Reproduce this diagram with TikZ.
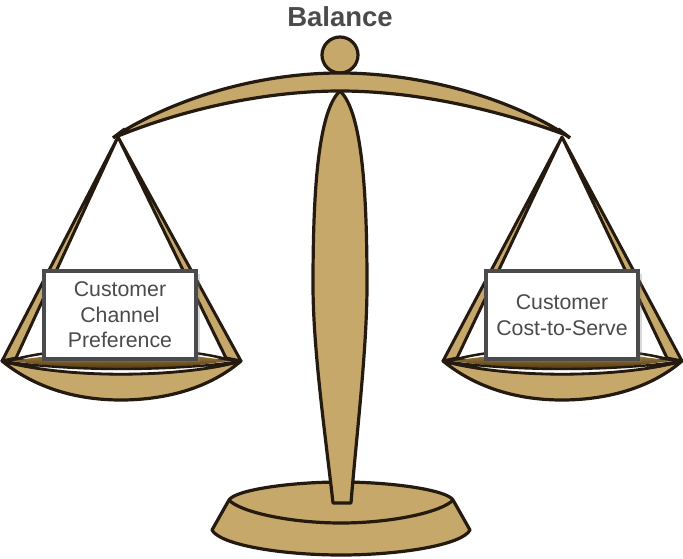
\documentclass[tikz,border=0pt]{standalone}
\usepackage{fontspec}
\setmainfont{Liberation Sans}
\usetikzlibrary{shadows}
\definecolor{scaletan}{HTML}{C7A86B}
\definecolor{scaleink}{HTML}{241A10}
\definecolor{cardgray}{HTML}{4B4B4D}
\definecolor{pantop}{HTML}{A5843F}
\definecolor{panlow}{HTML}{4E3712}
\tikzset{
  scalepart/.style={draw=scaleink, fill=scaletan, line width=3.2pt, line join=round},
  strap/.style={draw=scaleink, fill=scaletan, line width=3pt, line join=round},
  card/.style={draw=cardgray, fill=white, line width=4pt, minimum width=152pt, minimum height=88pt,
    align=center, text=cardgray, font=\fontsize{21.3}{25.5}\selectfont,
    drop shadow={shadow xshift=4pt, shadow yshift=-3pt, opacity=0.3}}
}
\begin{document}
\begin{tikzpicture}[x=1pt, y=-1pt]
\useasboundingbox (0, 0) rectangle (683, 559);
\node[text=cardgray, font=\fontsize{27.5}{30}\selectfont\bfseries] (title) at (340, 17) {Balance};
\draw[scalepart] (340, 55) circle (18);
\draw[scalepart] (212, 530) -- (229, 500) .. controls (235, 490) and (290, 482) .. (341, 482)
  .. controls (392, 482) and (447, 490) .. (453, 500) -- (470, 530)
  .. controls (462, 545) and (400, 555) .. (341, 555)
  .. controls (282, 555) and (220, 545) .. (212, 530) -- cycle;
\draw[scaleink, line width=3.2pt] (229, 500) .. controls (240, 512) and (290, 523) .. (341, 523)
  .. controls (392, 523) and (442, 512) .. (453, 500);
\draw[scalepart] (340, 91) .. controls (317, 112) and (313, 200) .. (313, 285)
  .. controls (313, 350) and (326, 440) .. (333, 503) -- (351, 503)
  .. controls (356, 440) and (367, 350) .. (367, 285)
  .. controls (367, 200) and (363, 112) .. (340, 91) -- cycle;
\draw[scalepart] (125, 130) .. controls (190, 92) and (270, 73) .. (340, 73)
  .. controls (410, 73) and (495, 92) .. (558, 130) -- (566, 135)
  .. controls (490, 107) and (410, 91) .. (340, 91)
  .. controls (270, 91) and (190, 107) .. (118, 136) -- cycle;
\draw[scaleink, line width=3.5pt] (113, 138) -- (125, 129);
\draw[scaleink, line width=3.5pt] (570, 138) -- (558, 129);
\foreach \panx/\apex in {0/118, 441/121} {
\begin{scope}[shift={(\panx, 0)}]
\draw[draw=scaleink, fill=white, line width=2.5pt] (12, 360) .. controls (40, 352) and (85, 348) .. (121, 348)
  .. controls (157, 348) and (202, 352) .. (230, 360) -- cycle;
\shade[top color=pantop, bottom color=panlow] (14, 361) .. controls (45, 355) and (85, 353) .. (121, 353)
  .. controls (157, 353) and (197, 355) .. (228, 361)
  .. controls (197, 366) and (157, 369) .. (121, 369)
  .. controls (85, 369) and (45, 366) .. (14, 361) -- cycle;
\draw[strap] (\apex, 137) -- (2, 361) -- (16, 358) -- cycle;
\draw[strap] (\apex, 137) -- (241, 361) -- (226, 358) -- cycle;
\draw[scalepart] (2, 361) .. controls (40, 371) and (85, 374) .. (121, 374)
  .. controls (157, 374) and (205, 371) .. (241, 361)
  .. controls (205, 392) and (157, 400) .. (121, 400)
  .. controls (85, 400) and (40, 392) .. (2, 361) -- cycle;
\draw[draw=scaleink, fill=white, line width=2.4pt] (2, 361) .. controls (40, 367) and (85, 369) .. (121, 369)
  .. controls (157, 369) and (205, 367) .. (241, 361)
  .. controls (205, 371) and (157, 374) .. (121, 374)
  .. controls (85, 374) and (40, 371) .. (2, 361) -- cycle;
\end{scope}
}
\node[card] (leftcard) at (120, 315) {Customer\\Channel\\Preference};
\node[card] (rightcard) at (562, 315) {Customer\\Cost-to-Serve};
\end{tikzpicture}
\end{document}
